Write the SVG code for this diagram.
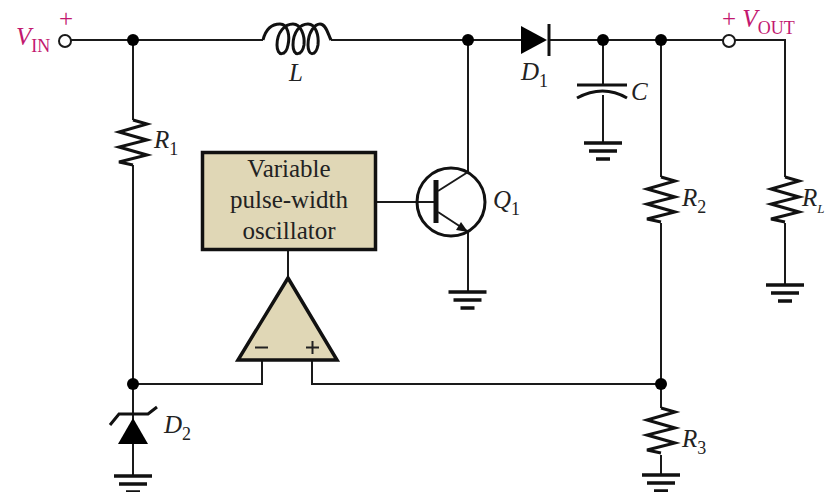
<svg xmlns="http://www.w3.org/2000/svg" width="825" height="492" viewBox="0 0 825 492">
<style>
.w{fill:none;stroke:#1a1a1a;stroke-width:2;stroke-linejoin:miter}
.r{fill:none;stroke:#111;stroke-width:3}
.j{fill:#000}
.o{fill:#fff;stroke:#1a1a1a;stroke-width:2}
.g{stroke:#111;stroke-width:3.500;fill:none}
.t{font-family:"Liberation Serif",serif;font-size:25px;font-style:italic;fill:#222}
.s{font-size:18px;font-style:normal;baseline-shift:-7px}
.b{font-family:"Liberation Serif",serif;font-size:25px;fill:#222;text-anchor:middle}
.m{fill:#c2186f}
.fill{fill:#e0d7b6;stroke:#111;stroke-width:3.500}
</style>
<defs>
<path id="res" class="r" d="M0 0L14 4L-14 12L14 20L-14 27L14 35L-14 42L0 45"/>
<g id="gnd"><path class="g" d="M-19 0H19M-14 8H14M-7 16H7"/></g>
</defs>
<rect width="825" height="492" fill="#fff"/>
<g id="connectors">
<path class="w" d="M71 40H263M331 40H521M549 40H723M735 40H785V177M785 223V285"/>
<path class="w" d="M133 40V120M133 165V476M133 384H262V360M312 360V384H661"/>
<path class="w" d="M468 40V172M468 232V292"/>
<path class="w" d="M603 40V84M603 95V143"/>
<path class="w" d="M661 40V177M661 223V408M661 455V475"/>
<path class="w" d="M376 202H434M288 249V278"/>
</g>
<g id="VIN"><circle class="o" cx="65" cy="41" r="6"/>
<text class="t m" x="16" y="45">V<tspan class="s">IN</tspan></text>
<text class="b m" x="66" y="27">+</text></g>
<g id="VOUT"><circle class="o" cx="729" cy="41" r="6"/>
<text class="t m" x="722" y="27"><tspan style="font-style:normal">+</tspan> V<tspan class="s">OUT</tspan></text></g>
<g id="L"><path class="r" d="M263 40C266 28 273 24 280 24C288 24 290 36 288 45C286 56 277 57 277 45C277 32 285 24 293 24C301 24 305 36 304 45C302 56 293 57 293 45C293 32 300 24 308 24C316 24 319 36 318 45C316 56 308 57 308 45C308 32 315 24 320 24C326 24 328 34 331 40"/>
<text class="t" x="289" y="81">L</text></g>
<g id="R1"><use href="#res" x="133" y="120"/><text class="t" x="154" y="148">R<tspan class="s">1</tspan></text></g>
<g id="osc"><rect class="fill" x="202.500" y="152.500" width="173" height="97"/>
<text class="b" x="289" y="177">Variable</text>
<text class="b" x="289" y="208">pulse-width</text>
<text class="b" x="289" y="239">oscillator</text></g>
<g id="amp"><path class="fill" d="M288 278L337 360H238Z"/>
<path d="M255 347.500H268M306 347.500H319M312.500 341V354" fill="none" stroke="#222" stroke-width="2"/></g>
<g id="Q1"><circle cx="451" cy="202" r="34" fill="none" stroke="#111" stroke-width="3"/>
<path d="M436 180V223" stroke="#111" stroke-width="5"/>
<path class="w" d="M438 191L468 172M438 212L467 231"/>
<path d="M468 232L456 230L461 222Z" fill="#111"/>
<text class="t" x="493" y="208">Q<tspan class="s">1</tspan></text>
<use href="#gnd" x="467.500" y="292"/></g>
<g id="D1"><path d="M521 26L547 40L521 54Z" fill="#000"/><path d="M549 24V56" stroke="#111" stroke-width="3"/>
<text class="t" x="521" y="80">D<tspan class="s">1</tspan></text></g>
<g id="C"><path class="r" d="M577 85H627M577 98Q603 84 627 98"/><text class="t" x="631" y="100">C</text><use href="#gnd" x="603" y="143"/></g>
<g id="R2"><use href="#res" x="661" y="177"/><text class="t" x="682" y="206">R<tspan class="s">2</tspan></text></g>
<g id="RL"><use href="#res" x="785" y="177"/><text class="t" x="802" y="206">R<tspan class="s" style="font-size:13px;font-style:italic">L</tspan></text><use href="#gnd" x="785" y="285"/></g>
<g id="R3"><use href="#res" x="661" y="408"/><text class="t" x="682" y="447">R<tspan class="s">3</tspan></text><use href="#gnd" x="661" y="475"/></g>
<g id="D2"><path d="M118 444L133 418L148 444Z" fill="#000"/><path class="r" d="M110 425L119 414H148L157 407"/>
<text class="t" x="164" y="433">D<tspan class="s">2</tspan></text><use href="#gnd" x="133" y="476"/></g>
<g id="junctions"><circle class="j" cx="133" cy="40" r="6"/><circle class="j" cx="468" cy="40" r="6"/><circle class="j" cx="603" cy="40" r="6"/><circle class="j" cx="661" cy="40" r="6"/><circle class="j" cx="133" cy="384" r="6"/><circle class="j" cx="661" cy="384" r="6"/></g>
</svg>
